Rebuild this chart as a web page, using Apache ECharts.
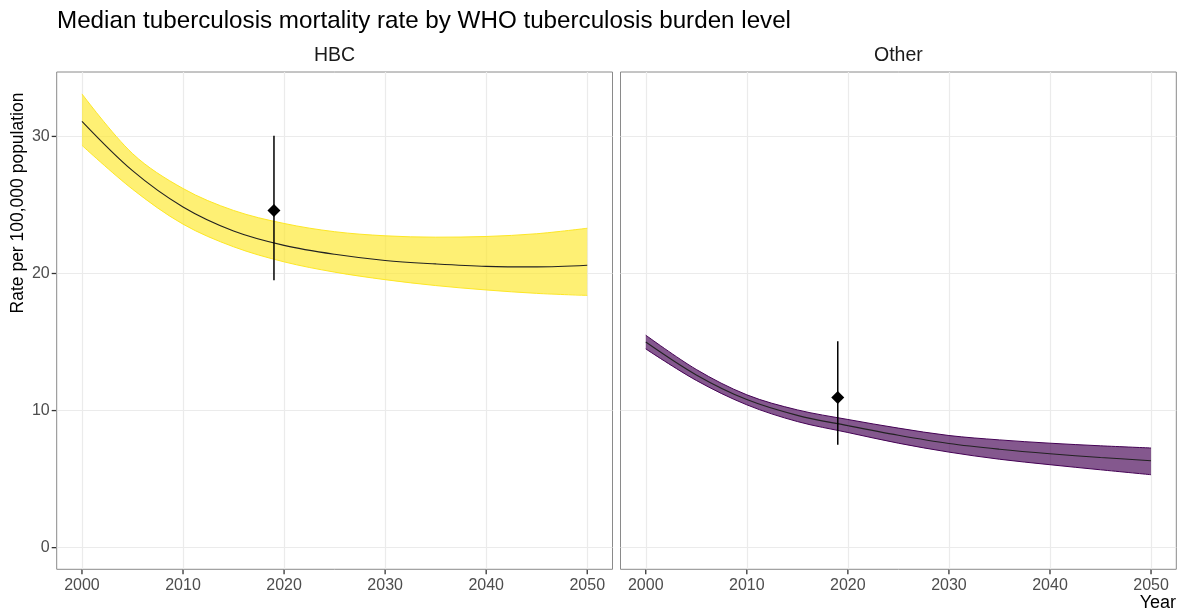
<!DOCTYPE html>
<html>
<head>
<meta charset="utf-8">
<script src="https://cdn.jsdelivr.net/npm/echarts@6/dist/echarts.min.js"></script>
<style>
  html, body { margin: 0; padding: 0; background: #ffffff; }
  #chart { width: 1180px; height: 614px; }
</style>
</head>
<body>
<div id="chart"></div>
<script>
// Projected median TB mortality rate (per 100,000) with uncertainty band
const years = [2000, 2005, 2010, 2015, 2020, 2025, 2030, 2035, 2040, 2045, 2050];

const hbcMedian = [31.1, 27.5, 24.85, 23.1, 22.05, 21.4, 20.95, 20.7, 20.52, 20.48, 20.6];
const hbcUpper  = [33.1, 28.75, 26.2, 24.6, 23.65, 23.05, 22.75, 22.65, 22.7, 22.9, 23.3];
const hbcLower  = [29.35, 26.15, 23.6, 21.95, 20.85, 20.1, 19.55, 19.12, 18.8, 18.55, 18.4];

const otherMedian = [15.0, 12.6, 10.8, 9.65, 8.9, 8.2, 7.6, 7.18, 6.85, 6.58, 6.34];
const otherUpper  = [15.5, 13.0, 11.15, 10.05, 9.35, 8.72, 8.18, 7.86, 7.62, 7.43, 7.27];
const otherLower  = [14.5, 12.2, 10.42, 9.2, 8.4, 7.62, 6.97, 6.45, 6.05, 5.68, 5.32];

// Reported estimate for 2019: [year, estimate, low, high]
const hbcReported   = [2019, 24.6, 19.5, 30.05];
const otherReported = [2019, 10.95, 7.5, 15.05];

const panelNames = ['HBC', 'Other'];
const xTicks = [2000, 2010, 2020, 2030, 2040, 2050];
const yTicks = [0, 10, 20, 30];

const FONT = "'Liberation Sans', Arial, Helvetica, sans-serif";
const BORDER = '#8a8a8a';
const TICK_COLOR = '#333333';
const X_MIN = 1997.5, X_MAX = 2052.5, Y_MIN = -1.58, Y_MAX = 34.7;
const SMOOTH = 0.34;

const panels = [
  { median: hbcMedian, upper: hbcUpper, lower: hbcLower, reported: hbcReported,
    line: '#FDE725', fill: 'rgba(253,231,37,0.64)' },
  { median: otherMedian, upper: otherUpper, lower: otherLower, reported: otherReported,
    line: '#440154', fill: 'rgba(68,1,84,0.66)' }
];

const grids = [
  { left: 56.7, top: 72, width: 555.8, height: 497.3 },
  { left: 620.5, top: 72, width: 555.8, height: 497.3 }
].map(g => Object.assign(g, { show: true, borderColor: BORDER, borderWidth: 1, backgroundColor: '#fff' }));

const xAxes = grids.map((g, i) => ({
  type: 'value', gridIndex: i, min: X_MIN, max: X_MAX,
  axisLine: { show: false, onZero: false },
  axisTick: { show: false, customValues: xTicks },
  axisLabel: { customValues: xTicks, margin: 8, color: '#4d4d4d', fontSize: 16, fontFamily: FONT,
               formatter: v => String(v) },
  splitLine: { show: true, lineStyle: { color: '#ebebeb', width: 1.2 } }
}));

const yAxes = grids.map((g, i) => ({
  type: 'value', gridIndex: i, min: Y_MIN, max: Y_MAX,
  axisLine: { show: false, onZero: false },
  axisTick: { show: false, customValues: yTicks },
  axisLabel: { show: i === 0, customValues: yTicks, margin: 7, color: '#4d4d4d', fontSize: 16, fontFamily: FONT,
               formatter: v => String(v) },
  splitLine: { show: true, lineStyle: { color: '#ebebeb', width: 1.2 } }
}));

// short outward tick marks on the panel edges
function tickSeries(i, values, dir) {
  return {
    type: 'custom', coordinateSystem: 'cartesian2d', xAxisIndex: i, yAxisIndex: i,
    silent: true, clip: false,
    data: values.map(v => dir === 'x' ? [v, Y_MIN] : [X_MIN, v]),
    encode: { x: 0, y: 1 },
    renderItem: function (params, api) {
      const p = api.coord([api.value(0), api.value(1)]);
      const shape = dir === 'x'
        ? { x1: p[0], y1: p[1] + 0.5, x2: p[0], y2: p[1] + 5 }
        : { x1: p[0] - 5, y1: p[1], x2: p[0] - 0.5, y2: p[1] };
      return { type: 'line', shape: shape, style: { stroke: TICK_COLOR, lineWidth: 1.3 } };
    },
    z: 10
  };
}

const series = [];
panels.forEach((p, i) => {
  const stackId = 'band' + i;
  // rows are [value, year] so that the stacked dimension is the rate
  series.push({
    type: 'line', xAxisIndex: i, yAxisIndex: i, stack: stackId, smooth: SMOOTH,
    symbol: 'none', silent: true,
    encode: { x: 1, y: 0 },
    data: years.map((y, k) => [p.lower[k], y]),
    lineStyle: { color: p.line, width: 1 }
  });
  series.push({
    type: 'line', xAxisIndex: i, yAxisIndex: i, stack: stackId, smooth: SMOOTH,
    symbol: 'none', silent: true,
    encode: { x: 1, y: 0 },
    data: years.map((y, k) => [p.upper[k] - p.lower[k], y]),
    lineStyle: { color: p.line, width: 1 },
    areaStyle: { color: p.fill, opacity: 1 }
  });
  series.push({
    type: 'line', xAxisIndex: i, yAxisIndex: i, smooth: SMOOTH,
    symbol: 'none', silent: true,
    data: years.map((y, k) => [y, p.median[k]]),
    lineStyle: { color: '#222222', width: 1.1 }
  });
  series.push({
    type: 'custom', xAxisIndex: i, yAxisIndex: i, silent: true,
    data: [[p.reported[0], p.reported[2], p.reported[3]]],
    encode: { x: 0, y: [1, 2] },
    renderItem: function (params, api) {
      const a = api.coord([api.value(0), api.value(1)]);
      const b = api.coord([api.value(0), api.value(2)]);
      return {
        type: 'line',
        shape: { x1: a[0], y1: a[1], x2: b[0], y2: b[1] },
        style: { stroke: '#000', lineWidth: 1.5 }
      };
    },
    z: 5
  });
  series.push({
    type: 'scatter', xAxisIndex: i, yAxisIndex: i, silent: true,
    data: [[p.reported[0], p.reported[1]]],
    symbol: 'diamond', symbolSize: [13, 13],
    itemStyle: { color: '#000', opacity: 1 },
    z: 6
  });
  series.push(tickSeries(i, xTicks, 'x'));
});
series.push(tickSeries(0, yTicks, 'y'));

const chart = echarts.init(document.getElementById('chart'), null, { renderer: 'canvas' });
chart.setOption({
  animation: false,
  backgroundColor: '#ffffff',
  textStyle: { fontFamily: FONT },
  grid: grids,
  xAxis: xAxes,
  yAxis: yAxes,
  series: series,
  graphic: [
    { type: 'text', x: 57, y: 21,
      style: { text: 'Median tuberculosis mortality rate by WHO tuberculosis burden level',
               font: '24.2px ' + FONT, fill: '#000', verticalAlign: 'middle' } },
    { type: 'text', x: grids[0].left + grids[0].width / 2, y: 56,
      style: { text: panelNames[0], font: '19.5px ' + FONT, fill: '#1a1a1a', align: 'center', verticalAlign: 'middle' } },
    { type: 'text', x: grids[1].left + grids[1].width / 2, y: 56,
      style: { text: panelNames[1], font: '19.5px ' + FONT, fill: '#1a1a1a', align: 'center', verticalAlign: 'middle' } },
    { type: 'text', x: 18, y: 203, rotation: Math.PI / 2,
      style: { text: 'Rate per 100,000 population', font: '17.5px ' + FONT, fill: '#000', align: 'center', verticalAlign: 'middle' } },
    { type: 'text', x: 1176, y: 603,
      style: { text: 'Year', font: '18px ' + FONT, fill: '#000', align: 'right', verticalAlign: 'middle' } }
  ]
});
</script>
</body>
</html>
